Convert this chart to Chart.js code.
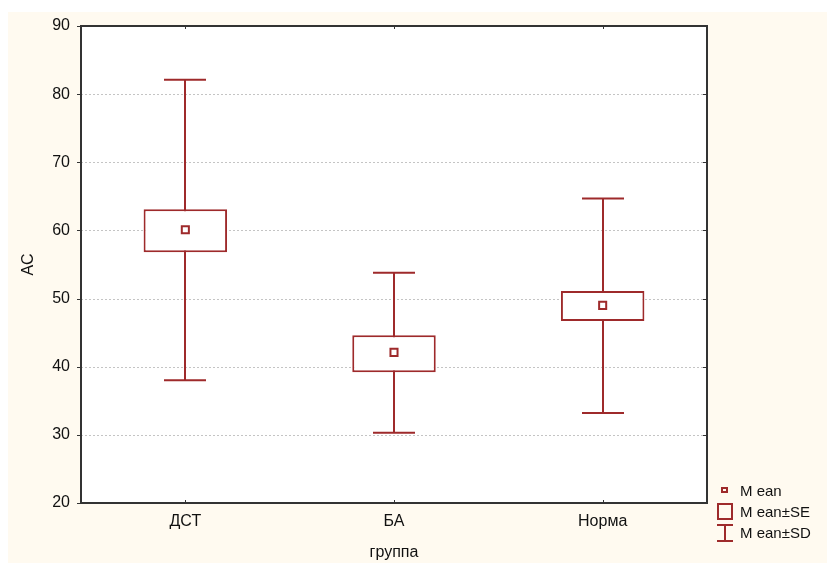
<!DOCTYPE html>
<html lang="ru">
<head>
<meta charset="UTF-8">
<title>AC по группам</title>
<style>
  html, body { margin: 0; padding: 0; background: #fff; }
  .wrap { position: relative; width: 827px; height: 563px; }
  #chart { display: block; }
  .legend { position: absolute; left: 716px; top: 480px; font: 15px "Liberation Sans", Arial, sans-serif; color: #111; }
  .legend .row { position: relative; height: 21px; line-height: 21px; padding-left: 24px; }
  .legend .ico { position: absolute; box-sizing: border-box; border: 2px solid #9e2a2b; }
  .ico.mean { left: 5px; top: 7px; width: 7px; height: 6px; }
  .ico.se { left: 1px; top: 2px; width: 16px; height: 17px; }
  .ico.sd { left: 8px; top: 2px; width: 2px; height: 18px; border-width: 0 0 0 2px; }
  .ico.sd::before, .ico.sd::after { content: ""; position: absolute; left: -9px; width: 16px; height: 2px; background: #9e2a2b; }
  .ico.sd::before { top: 0; }
  .ico.sd::after { bottom: 0; }
</style>
</head>
<body>
<div class="wrap">
  <canvas id="chart" width="827" height="563"></canvas>
  <div class="legend">
    <div class="row"><span class="ico mean"></span>M ean</div>
    <div class="row"><span class="ico se"></span>M ean±SE</div>
    <div class="row"><span class="ico sd"></span>M ean±SD</div>
  </div>
</div>

<script src="https://cdn.jsdelivr.net/npm/chart.js"></script>
<script>
  // данные
  const groups = ['ДСТ', 'БА', 'Норма'];
  const means = [60.1, 42.1, 49.0];
  const seLow = [56.8, 39.2, 46.7];
  const seHigh = [63.1, 44.6, 51.1];
  const sdLow = [38.0, 30.3, 33.2];
  const sdHigh = [82.1, 53.8, 64.7];
  const yTicks = [20, 30, 40, 50, 60, 70, 80, 90];

  const RED = '#9e2a2b';
  const FONT = '"Liberation Sans", Arial, sans-serif';

  // фон, сетка, усы, рамка
  const decor = {
    id: 'decor',
    beforeDraw(chart) {
      const c = chart.ctx, a = chart.chartArea;
      c.save();
      c.fillStyle = '#fff';
      c.fillRect(0, 0, chart.width, chart.height);
      c.fillStyle = '#fffaf0';
      c.fillRect(8, 12, chart.width - 8, chart.height - 12);
      c.fillStyle = '#fff';
      c.fillRect(a.left, a.top, a.right - a.left, a.bottom - a.top);
      c.restore();
    },
    beforeDatasetsDraw(chart) {
      const c = chart.ctx, a = chart.chartArea;
      const x = chart.scales.x, y = chart.scales.y;
      c.save();
      // пунктирная сетка
      c.strokeStyle = '#c4c4c4';
      c.lineWidth = 1;
      c.setLineDash([2, 2]);
      yTicks.forEach(v => {
        if (v === yTicks[0] || v === yTicks[yTicks.length - 1]) return;
        const py = Math.round(y.getPixelForValue(v)) + 0.5;
        c.beginPath();
        c.moveTo(a.left, py);
        c.lineTo(a.right, py);
        c.stroke();
      });
      c.setLineDash([]);
      // усы (Mean±SD)
      c.strokeStyle = RED;
      c.lineWidth = 2;
      groups.forEach((g, i) => {
        const px = Math.round(x.getPixelForValue(i));
        const top = y.getPixelForValue(sdHigh[i]);
        const bot = y.getPixelForValue(sdLow[i]);
        c.beginPath();
        c.moveTo(px, top); c.lineTo(px, bot);
        c.moveTo(px - 21, top); c.lineTo(px + 21, top);
        c.moveTo(px - 21, bot); c.lineTo(px + 21, bot);
        c.stroke();
      });
      c.restore();
    },
    afterDraw(chart) {
      const c = chart.ctx, a = chart.chartArea;
      const x = chart.scales.x, y = chart.scales.y;
      c.save();
      c.strokeStyle = '#333';
      c.lineWidth = 1;
      // засечки
      c.beginPath();
      yTicks.forEach(v => {
        const py = Math.round(y.getPixelForValue(v)) + 0.5;
        c.moveTo(a.left - 4, py); c.lineTo(a.left, py);
        c.moveTo(a.right - 4, py); c.lineTo(a.right, py);
      });
      groups.forEach((g, i) => {
        const px = Math.round(x.getPixelForValue(i)) + 0.5;
        c.moveTo(px, a.bottom); c.lineTo(px, a.bottom - 3);
        c.moveTo(px, a.top); c.lineTo(px, a.top + 3);
      });
      c.stroke();
      // рамка
      c.lineWidth = 2;
      c.strokeRect(a.left, a.top, a.right - a.left, a.bottom - a.top);
      c.restore();
    }
  };

  new Chart(document.getElementById('chart'), {
    type: 'bar',
    data: {
      labels: groups,
      datasets: [
        {
          type: 'line',
          label: 'Mean',
          data: means,
          showLine: false,
          pointStyle: 'rect',
          pointRadius: 5,
          pointBorderWidth: 2,
          pointBackgroundColor: '#fff',
          pointBorderColor: RED,
          order: 0
        },
        {
          label: 'Mean±SE',
          data: groups.map((g, i) => [seLow[i], seHigh[i]]),
          backgroundColor: '#fff',
          borderColor: RED,
          borderWidth: 2,
          borderSkipped: false,
          barPercentage: 0.4,
          categoryPercentage: 1,
          order: 1
        }
      ]
    },
    options: {
      responsive: false,
      animation: false,
      layout: { padding: { top: 26, right: 120, bottom: 0, left: 0 } },
      plugins: { legend: { display: false }, tooltip: { enabled: false } },
      scales: {
        x: {
          offset: true,
          grid: { display: false, drawTicks: false },
          border: { display: false },
          ticks: { color: '#111', padding: 9, font: { family: FONT, size: 16 } },
          title: { display: true, text: 'группа', color: '#111', padding: { top: 0, bottom: 1 }, font: { family: FONT, size: 16 } },
          afterFit(s) { s.height = 60; }
        },
        y: {
          min: 20, max: 90,
          afterBuildTicks(s) { s.ticks = yTicks.map(v => ({ value: v })); },
          grid: { display: false, drawTicks: false },
          border: { display: false },
          ticks: { color: '#111', padding: 11, font: { family: FONT, size: 16 } },
          title: { display: true, text: 'AC', color: '#111', padding: { top: 19, bottom: 0 }, font: { family: FONT, size: 16 } },
          afterFit(s) { s.width = 81; }
        }
      }
    },
    plugins: [decor]
  });
</script>
</body>
</html>
